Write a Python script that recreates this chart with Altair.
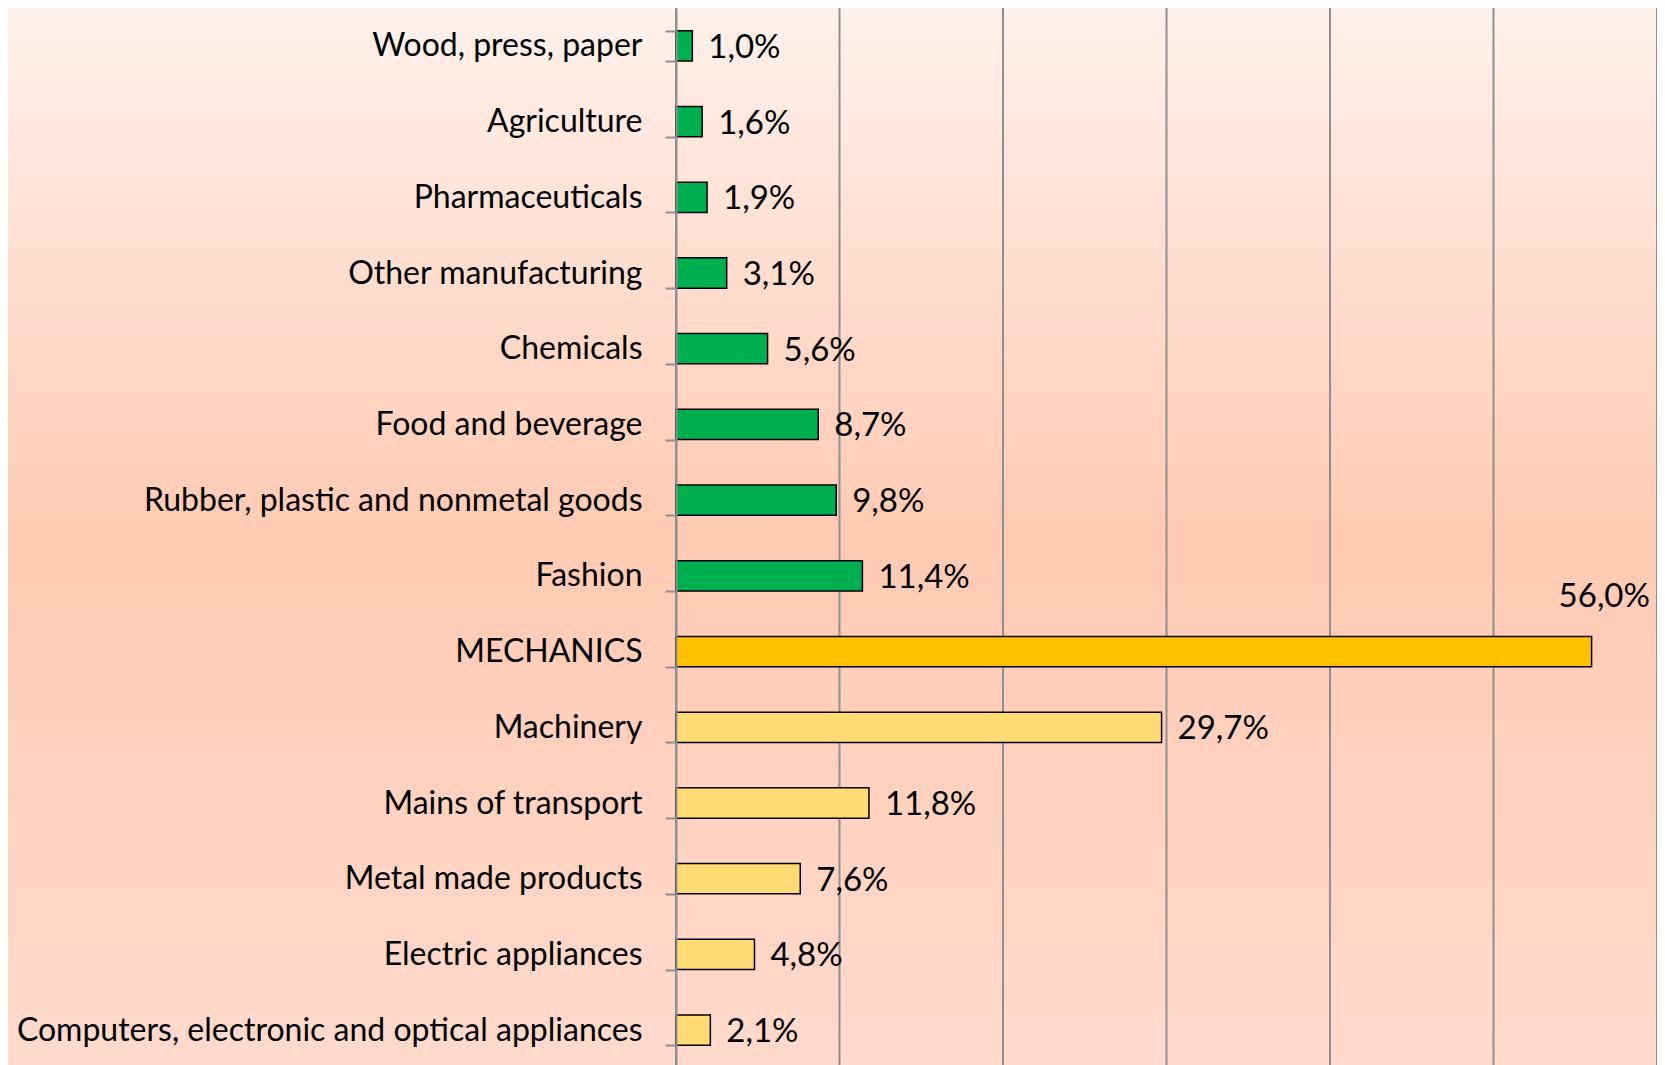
import altair as alt
import pandas as pd

categories = [
    "Wood, press, paper", "Agriculture", "Pharmaceuticals", "Other manufacturing",
    "Chemicals", "Food and beverage", "Rubber, plastic and nonmetal goods", "Fashion ",
    "MECHANICS", "Machinery", "Mains of transport", "Metal made products",
    "Electric appliances", "Computers, electronic and optical appliances",
]
values = [1.0, 1.6, 1.9, 3.1, 5.6, 8.7, 9.8, 11.4, 56.0, 29.7, 11.8, 7.6, 4.8, 2.1]
groups = ["other"] * 8 + ["mechanics"] + ["mech_sub"] * 5
grid_values = [0, 10, 20, 30, 40, 50, 60]

group_domain = ["other", "mechanics", "mech_sub"]
group_colors = ["#00B050", "#FFC000", "#FFDA75"]

FONT = "Lato"
W, H = 981, 1060
LEFT = 668

df = pd.DataFrame({
    "category": categories,
    "value": values,
    "group": groups,
    "label": [f"{v:.1f}%".replace(".", ",") for v in values],
})
grid_df = pd.DataFrame({"g": grid_values})

x_scale = alt.Scale(domain=[0, 60], nice=False, zero=True)
y_scale = alt.Scale(domain=categories, paddingInner=0.6, paddingOuter=0.3)

bg = alt.Chart(pd.DataFrame({"a": [0]})).mark_rect(
    color=alt.LinearGradient(
        gradient="linear", x1=0, x2=0, y1=0, y2=1,
        stops=[
            alt.GradientStop(color="#FFF1EC", offset=0),
            alt.GradientStop(color="#FFCAB3", offset=0.5),
            alt.GradientStop(color="#FFDACD", offset=1),
        ],
    )
).encode(
    x=alt.value(-LEFT), x2=alt.value(W), y=alt.value(0), y2=alt.value(H)
)

grid = alt.Chart(grid_df).mark_rule(color="#8F8F8F", strokeWidth=2).encode(
    x=alt.X("g:Q", scale=x_scale, axis=None),
    y=alt.value(0), y2=alt.value(H),
)

y_axis = alt.Axis(
    labelFont=FONT, labelFontSize=32, labelColor="black",
    labelLimit=0, labelPadding=23, tickSize=11, tickWidth=2,
    tickColor="#8F8F8F", tickBand="extent", domainColor="#8F8F8F",
    domainWidth=2, zindex=1, grid=False, title=None,
)

bars = alt.Chart(df).mark_bar(stroke="black", strokeWidth=1.5).encode(
    x=alt.X("value:Q", scale=x_scale, axis=None),
    y=alt.Y("category:N", sort=categories, scale=y_scale, title=None, axis=y_axis),
    color=alt.Color("group:N", scale=alt.Scale(domain=group_domain, range=group_colors), legend=None),
)

text_main = alt.Chart(df).transform_filter(alt.datum.category != "MECHANICS").mark_text(
    align="left", baseline="middle", dx=16, dy=2, font=FONT, fontSize=33, color="black"
).encode(
    x=alt.X("value:Q", scale=x_scale, axis=None),
    y=alt.Y("category:N", sort=categories, scale=y_scale, title=None, axis=y_axis),
    text="label:N",
)

text_mech = alt.Chart(df).transform_filter(alt.datum.category == "MECHANICS").mark_text(
    align="left", baseline="middle", dx=-33, dy=-55, font=FONT, fontSize=33, color="black"
).encode(
    x=alt.X("value:Q", scale=x_scale, axis=None),
    y=alt.Y("category:N", sort=categories, scale=y_scale, title=None, axis=y_axis),
    text="label:N",
)

chart = alt.layer(bg, grid, bars, text_main, text_mech).properties(
    width=W, height=H,
    padding={"left": LEFT, "top": 0, "right": 0, "bottom": 0},
    autosize=alt.AutoSizeParams(type="none"),
).configure_view(stroke=None).configure(background="#FFDACD")

chart.save("out.html", embed_options={"renderer": "svg", "actions": False})
